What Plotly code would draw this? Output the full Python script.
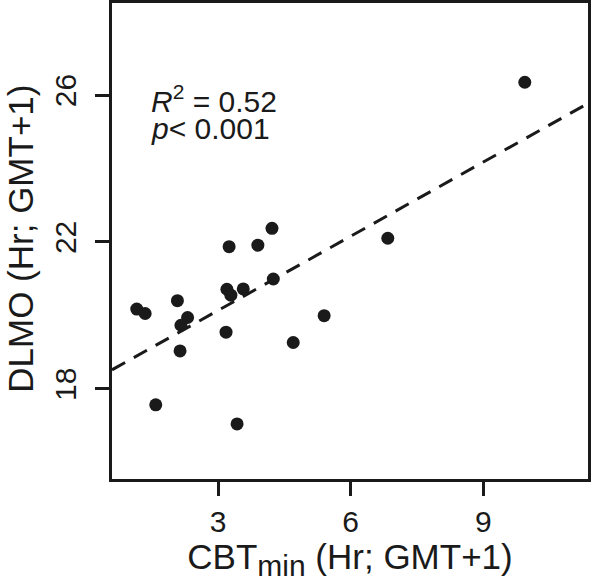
import plotly.graph_objects as go
import numpy as np

# Data
cbt_min = [1.16, 1.35, 2.08, 2.31, 2.16, 2.14, 3.25, 3.90, 4.22, 3.20,
           3.29, 3.57, 4.25, 3.18, 4.70, 1.59, 3.43, 6.84, 5.40, 9.94]
dlmo = [20.17, 20.05, 20.40, 19.94, 19.73, 19.03, 21.87, 21.91, 22.37, 20.71,
        20.55, 20.72, 20.99, 19.54, 19.26, 17.56, 17.04, 22.10, 19.99, 26.35]

fit_intercept = 18.11
fit_slope = 0.674

x_ticks = [3, 6, 9]
y_ticks = [18, 22, 26]
x_range = [0.60, 11.37]
y_range = [15.54, 28.51]

x_title = "CBT<sub><span style='font-size:30px'>min</span></sub> (Hr; GMT+1)"
y_title = "DLMO (Hr; GMT+1)"

FONT = "Liberation Sans, Arial, sans-serif"
INK = "#1a1a1a"

fig = go.Figure()

fit_x = np.array(x_range)
fit_y = fit_intercept + fit_slope * fit_x
fig.add_trace(go.Scatter(x=fit_x, y=fit_y, mode="lines",
                         line=dict(color=INK, width=3, dash="15px,10px"),
                         hoverinfo="skip", showlegend=False))

fig.add_trace(go.Scatter(x=cbt_min, y=dlmo, mode="markers",
                         marker=dict(color=INK, size=13, line=dict(width=0)),
                         showlegend=False))

fig.add_annotation(x=0.078, y=0.799, xref="paper", yref="paper",
                   text="<i>R</i><sup>2</sup> = 0.52", showarrow=False,
                   xanchor="left", yanchor="middle",
                   font=dict(family=FONT, size=30, color=INK))
fig.add_annotation(x=0.078, y=0.736, xref="paper", yref="paper",
                   text="<i>p</i>< 0.001", showarrow=False,
                   xanchor="left", yanchor="middle",
                   font=dict(family=FONT, size=30, color=INK))

# y-axis title placed as a rotated annotation for exact placement
fig.add_annotation(x=-0.194, y=0.504, xref="paper", yref="paper",
                   text=y_title, showarrow=False, textangle=-90,
                   xanchor="center", yanchor="middle",
                   font=dict(family=FONT, size=35, color=INK))

axis_common = dict(showline=True, linewidth=2.5, linecolor=INK, mirror=True,
                   showgrid=False, zeroline=False, ticks="outside",
                   ticklen=14, tickwidth=2.5, tickcolor=INK,
                   tickfont=dict(family=FONT, size=30, color=INK))

fig.update_xaxes(range=x_range, tickvals=x_ticks,
                 ticktext=[str(v) for v in x_ticks],
                 title=dict(text=x_title,
                            font=dict(family=FONT, size=35, color=INK),
                            standoff=13),
                 **axis_common)
fig.update_yaxes(range=y_range, tickvals=y_ticks,
                 ticktext=[str(v) for v in y_ticks], tickangle=-90,
                 ticklabelstandoff=7,
                 **axis_common)

fig.update_layout(width=592, height=582,
                  margin=dict(l=112, r=4, t=3, b=103, autoexpand=False),
                  plot_bgcolor="white", paper_bgcolor="white",
                  font=dict(family=FONT, color=INK))

fig.write_html("out.html", config={"displayModeBar": False},
               post_script="document.body.style.margin='0px';")
